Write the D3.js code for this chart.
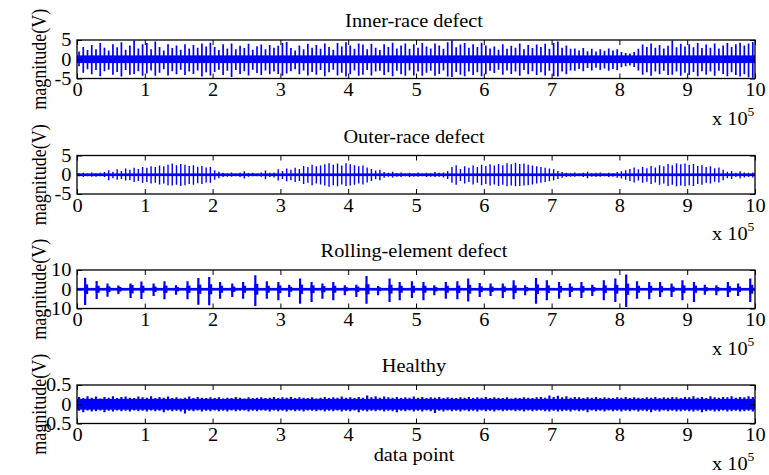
<!DOCTYPE html>
<html>
<head>
<meta charset="utf-8">
<script src="https://cdn.jsdelivr.net/npm/d3@7"></script>
<style>
body { margin: 0; background: #fff; }
text { font-family: "Liberation Serif", "Times New Roman", serif; font-size: 18px; fill: #000; }
</style>
</head>
<body>
<div id="svg_container"></div>
<script>

/* -----------------------
data (x in units of 1e5 data points, y in V)
------------------------- */

var titles = ["Inner-race defect", "Outer-race defect", "Rolling-element defect", "Healthy"];
var yDomains = [[-5, 5], [-5, 5], [-10, 10], [-0.5, 0.5]];
var yTicks = [[-5, 0, 5], [-5, 0, 5], [-10, 0, 10], [-0.5, 0, 0.5]];
var xTicks = [0, 1, 2, 3, 4, 5, 6, 7, 8, 9, 10];

// dense background band of each signal (+/- V)
var bands = [1.0, 0.35, 0.7, 0.14];

// impulse train sampling for inner / outer / healthy
var spikeStart = 0.03;
var spikeStep = 0.0625;

var innerHi = [
	2.0,3.2,2.4,3.7,2.6,4.2,3.0,2.3,3.9,3.1,4.4,2.5,3.6,4.9,2.8,3.9,
	4.2,2.6,4.6,3.2,2.3,3.9,2.9,3.6,2.5,3.9,2.8,3.7,3.0,4.1,3.3,4.3,
	3.2,2.4,3.9,2.8,4.1,2.6,3.5,2.9,4.0,2.5,3.4,3.8,2.6,3.7,3.0,3.5,
	4.2,4.5,2.9,2.3,3.6,2.6,4.0,3.0,3.7,2.7,4.1,3.2,2.5,4.2,3.3,4.4,
	3.6,2.7,4.1,3.8,2.6,4.0,3.0,2.4,3.9,3.2,4.3,2.8,3.6,4.1,2.7,3.9,
	3.0,4.2,3.3,2.8,4.1,3.6,2.7,4.4,4.9,3.1,3.8,4.2,3.0,3.9,3.2,4.3,
	3.6,2.8,3.3,2.5,3.9,2.7,3.5,3.0,4.1,2.6,3.7,2.9,3.8,3.2,4.0,2.7,
	4.2,4.6,3.0,3.6,2.7,2.8,2.3,2.9,2.1,2.7,2.0,2.6,2.2,2.8,2.3,2.6,
	1.9,1.6,1.5,1.9,2.7,3.8,3.2,4.1,3.0,3.7,2.8,3.5,4.9,3.1,4.0,3.3,
	3.9,3.1,4.2,2.9,3.8,3.0,4.1,2.8,3.6,4.2,3.2,3.9,4.3,3.6,4.1,4.5
];
var innerLo = [
	-1.8,-3.5,-2.6,-3.9,-2.8,-4.4,-3.1,-2.7,-4.0,-3.3,-4.5,-2.8,-4.0,-3.8,-3.1,-4.3,
	-3.7,-2.9,-4.3,-3.5,-2.6,-4.2,-3.1,-3.9,-2.7,-4.1,-3.2,-3.8,-2.9,-4.5,-3.4,-4.2,
	-3.3,-2.7,-4.1,-3.0,-4.6,-2.8,-3.8,-3.1,-4.2,-2.7,-3.6,-4.1,-2.9,-3.9,-3.2,-3.8,
	-4.3,-3.7,-3.1,-2.6,-3.9,-2.9,-4.2,-3.3,-4.0,-2.8,-4.4,-3.4,-2.7,-4.2,-3.5,-4.5,
	-3.9,-2.9,-4.3,-4.0,-2.8,-4.2,-3.2,-3.0,-4.1,-3.4,-4.4,-3.0,-3.9,-4.3,-2.9,-4.2,
	-3.2,-4.3,-3.5,-3.0,-4.3,-3.8,-2.9,-4.5,-4.6,-3.3,-4.0,-4.4,-3.2,-4.1,-3.4,-4.4,
	-3.9,-3.0,-3.6,-2.7,-4.0,-2.9,-3.8,-3.2,-4.3,-2.8,-3.9,-3.1,-4.1,-3.4,-4.2,-3.0,
	-4.4,-4.5,-3.2,-3.9,-2.9,-3.0,-2.5,-3.1,-2.3,-2.9,-2.2,-2.8,-2.4,-3.0,-2.5,-2.8,
	-2.1,-1.8,-1.6,-2.0,-2.9,-4.0,-3.4,-4.3,-3.2,-3.9,-3.0,-4.1,-4.0,-3.2,-4.3,-3.5,
	-4.1,-3.3,-4.4,-3.1,-4.0,-3.2,-4.3,-3.0,-3.8,-4.4,-3.4,-4.1,-4.5,-3.9,-4.7,-4.8
];

var outerHi = [
	0.4,0.5,0.3,0.6,0.4,0.5,0.7,1.2,0.8,1.4,1.0,1.6,1.3,1.8,1.5,2.0,
	1.8,2.2,2.0,2.4,2.2,2.6,2.9,2.5,2.8,2.6,2.3,2.5,2.1,2.3,1.9,2.0,
	1.2,0.8,0.5,0.4,0.6,0.3,0.5,0.9,0.4,0.5,0.3,0.6,1.1,0.5,0.6,1.4,
	1.0,1.6,1.3,1.8,1.5,2.3,2.0,2.6,2.2,2.4,2.7,3.0,2.6,2.9,2.4,3.0,
	2.7,2.5,2.2,2.4,1.9,1.5,1.1,1.3,0.7,0.5,0.8,0.4,0.6,0.3,0.5,0.4,
	0.6,0.3,0.5,0.4,0.7,0.5,0.6,1.0,2.0,2.5,1.5,2.2,1.8,2.4,2.0,2.6,
	2.3,2.7,2.4,2.8,2.5,3.0,2.7,3.1,2.8,2.9,2.6,2.4,2.2,2.0,1.8,1.6,
	1.4,1.0,0.7,0.5,0.4,0.6,0.3,0.5,0.8,0.4,0.5,0.6,0.3,0.5,0.4,0.7,
	0.9,1.2,1.5,1.9,1.4,2.0,1.7,2.3,1.9,2.5,2.2,2.8,2.5,3.0,2.7,2.9,
	2.6,2.8,2.3,2.5,2.0,2.2,1.7,1.9,1.3,0.8,1.0,0.5,0.9,0.6,0.5,0.6
];
var outerLo = [
	-0.4,-0.6,-0.4,-0.5,-0.5,-0.4,-0.6,-1.4,-0.9,-1.3,-1.1,-1.5,-1.4,-1.9,-1.6,-2.1,
	-1.9,-2.3,-2.1,-2.5,-2.3,-2.7,-2.8,-2.6,-2.9,-2.7,-2.4,-2.6,-2.2,-2.4,-2.0,-2.1,
	-1.3,-0.9,-0.6,-0.5,-0.5,-0.4,-0.6,-1.0,-0.5,-0.4,-0.4,-0.5,-1.2,-0.6,-0.7,-1.5,
	-1.1,-1.7,-1.4,-1.9,-1.6,-2.4,-2.1,-2.7,-2.3,-2.5,-2.8,-3.1,-2.7,-3.0,-2.5,-2.9,
	-2.8,-2.6,-2.3,-2.5,-2.0,-1.6,-1.2,-1.4,-0.8,-0.5,-0.7,-0.5,-0.6,-0.4,-0.6,-0.5,
	-0.5,-0.4,-0.6,-0.5,-0.6,-0.5,-0.7,-1.1,-2.1,-2.6,-1.6,-2.3,-1.9,-2.5,-2.1,-2.7,
	-2.4,-2.8,-2.5,-2.9,-2.6,-3.0,-2.8,-3.0,-2.9,-2.8,-2.7,-2.5,-2.3,-2.1,-1.9,-1.7,
	-1.5,-1.1,-0.8,-0.6,-0.5,-0.5,-0.4,-0.6,-0.9,-0.5,-0.6,-0.5,-0.4,-0.6,-0.5,-0.8,
	-1.0,-1.3,-1.6,-2.0,-1.5,-2.1,-1.8,-2.4,-2.0,-2.6,-2.3,-2.9,-2.6,-3.0,-2.8,-3.0,
	-2.7,-2.9,-2.4,-2.6,-2.1,-2.3,-1.8,-2.0,-1.4,-0.9,-1.1,-0.6,-1.0,-0.7,-0.6,-0.7
];

// rolling element: one burst per ball pass
var rollPos = [
	0.12,0.29,0.45,0.61,0.79,0.95,1.13,1.29,1.46,1.63,
	1.79,1.95,2.11,2.29,2.45,2.63,2.80,2.97,3.13,3.29,
	3.46,3.62,3.78,3.95,4.12,4.27,4.44,4.61,4.76,4.94,
	5.11,5.27,5.44,5.61,5.77,5.94,6.10,6.28,6.44,6.61,
	6.77,6.93,7.11,7.27,7.44,7.60,7.77,7.94,8.10,8.26,
	8.44,8.60,8.77,8.93,9.10,9.26,9.43,9.60,9.75,9.93
];
var rollHi = [
	6.0,4.3,3.0,2.0,3.0,4.0,3.0,4.2,2.1,4.2,
	5.9,6.4,3.8,3.0,3.8,7.3,4.2,3.8,2.4,5.6,
	3.8,3.0,3.8,2.1,2.4,6.9,1.7,5.6,3.8,4.2,
	3.8,2.1,3.8,4.2,5.6,3.3,3.0,3.0,4.7,2.1,
	5.9,4.7,3.8,3.0,3.8,2.4,4.7,5.6,7.6,4.2,
	3.8,3.8,3.0,4.7,3.8,2.4,2.1,3.8,3.0,5.6
];
var rollLo = [
	-8.2,-5.1,-3.9,-2.5,-4.5,-5.0,-3.5,-5.2,-2.8,-5.2,
	-8.0,-8.3,-4.9,-4.0,-4.9,-8.7,-4.9,-5.7,-4.0,-7.5,
	-6.6,-4.9,-5.7,-3.1,-4.0,-7.5,-3.1,-6.6,-5.7,-4.5,
	-5.7,-3.1,-4.9,-5.2,-6.3,-4.0,-3.5,-4.5,-5.2,-3.1,
	-7.5,-5.7,-4.9,-4.0,-4.5,-3.5,-5.7,-6.6,-9.2,-4.9,
	-5.2,-4.0,-4.0,-5.7,-6.6,-2.8,-3.1,-4.0,-3.5,-6.6
];
// ring-down of each burst (+/- V), a few samples after the impact
var rollRing = [
	2.5,1.8,1.5,1.2,2.2,1.8,1.4,1.9,1.1,1.9,
	2.4,2.6,1.8,1.4,1.8,2.8,1.8,2.0,1.3,2.4,
	2.0,1.6,1.8,1.1,1.4,2.6,1.0,2.3,1.8,1.8,
	1.8,1.1,1.8,1.9,2.3,1.5,1.4,1.5,2.0,1.1,
	2.5,2.0,1.7,1.4,1.7,1.2,2.0,2.3,2.9,1.8,
	1.8,1.6,1.4,2.0,1.9,1.1,1.1,1.6,1.4,2.3
];

var healthyHi = [
	0.19,0.16,0.21,0.17,0.20,0.15,0.19,0.17,0.21,0.16,0.19,0.20,0.17,0.16,0.20,0.18,
	0.17,0.21,0.16,0.19,0.17,0.20,0.16,0.18,0.15,0.17,0.20,0.16,0.19,0.17,0.16,0.18,
	0.16,0.18,0.15,0.17,0.16,0.19,0.17,0.15,0.18,0.16,0.17,0.18,0.16,0.17,0.19,0.16,
	0.18,0.17,0.19,0.16,0.18,0.17,0.16,0.18,0.15,0.17,0.19,0.16,0.18,0.17,0.20,0.17,
	0.18,0.16,0.19,0.17,0.23,0.18,0.21,0.17,0.20,0.18,0.17,0.19,0.16,0.18,0.17,0.20,
	0.17,0.19,0.16,0.18,0.17,0.19,0.16,0.18,0.17,0.16,0.18,0.17,0.19,0.16,0.18,0.17,
	0.19,0.16,0.18,0.17,0.16,0.18,0.15,0.17,0.16,0.18,0.17,0.16,0.18,0.19,0.17,0.23,
	0.19,0.22,0.18,0.21,0.17,0.19,0.18,0.16,0.18,0.17,0.19,0.16,0.18,0.17,0.16,0.18,
	0.17,0.19,0.16,0.18,0.17,0.16,0.18,0.17,0.19,0.16,0.18,0.17,0.19,0.18,0.16,0.19,
	0.18,0.21,0.17,0.19,0.16,0.21,0.18,0.17,0.19,0.18,0.21,0.17,0.19,0.18,0.21,0.19
];
var healthyLo = [
	-0.17,-0.21,-0.16,-0.19,-0.18,-0.16,-0.21,-0.17,-0.19,-0.16,-0.18,-0.17,-0.19,-0.16,-0.18,-0.17,
	-0.19,-0.16,-0.18,-0.17,-0.21,-0.16,-0.18,-0.17,-0.19,-0.24,-0.17,-0.18,-0.16,-0.19,-0.17,-0.18,
	-0.16,-0.18,-0.17,-0.19,-0.16,-0.18,-0.17,-0.16,-0.19,-0.17,-0.18,-0.16,-0.17,-0.19,-0.16,-0.18,
	-0.17,-0.19,-0.16,-0.18,-0.17,-0.19,-0.16,-0.17,-0.18,-0.16,-0.19,-0.17,-0.18,-0.16,-0.19,-0.17,
	-0.18,-0.16,-0.21,-0.17,-0.19,-0.17,-0.18,-0.16,-0.19,-0.17,-0.18,-0.21,-0.17,-0.18,-0.16,-0.19,
	-0.17,-0.19,-0.16,-0.18,-0.23,-0.17,-0.19,-0.16,-0.18,-0.17,-0.19,-0.16,-0.18,-0.17,-0.19,-0.16,
	-0.18,-0.17,-0.19,-0.16,-0.18,-0.17,-0.16,-0.18,-0.17,-0.19,-0.16,-0.18,-0.17,-0.16,-0.18,-0.19,
	-0.17,-0.19,-0.18,-0.17,-0.19,-0.16,-0.18,-0.17,-0.21,-0.16,-0.18,-0.17,-0.19,-0.16,-0.18,-0.17,
	-0.19,-0.17,-0.18,-0.16,-0.19,-0.17,-0.18,-0.21,-0.17,-0.19,-0.16,-0.18,-0.17,-0.19,-0.18,-0.17,
	-0.18,-0.19,-0.17,-0.21,-0.18,-0.17,-0.19,-0.18,-0.16,-0.19,-0.18,-0.17,-0.19,-0.18,-0.17,-0.19
];

/* -----------------------
main variables
------------------------- */

var width = 769;
var height = 475;
var plotLeft = 77;
var plotRight = 755;
var panelTop = [40, 155.5, 270, 385];
var panelH = 38.5;
var stretch = 1.13;   // glyphs in the picture are a bit wide
var blue = "#0000ff";

var series = [
	{hi: innerHi, lo: innerLo, w: 1.7},
	{hi: outerHi, lo: outerLo, w: 1.4},
	{hi: rollHi, lo: rollLo, pos: rollPos, ring: rollRing, w: 2.2},
	{hi: healthyHi, lo: healthyLo, w: 2.2}
];

/* -----------------------
set plot
------------------------- */

var svg = d3.select("#svg_container")
	.append("svg")
	.attr("width", width)
	.attr("height", height)
	.attr("viewBox", "0 0 " + width + " " + height);

var x = d3.scaleLinear().domain([0, 10]).range([plotLeft, plotRight]);

function wideText(parent, str, tx, ty, anchor) {
	return parent.append("text")
		.attr("transform", "translate(" + tx + "," + ty + ") scale(" + stretch + ",1)")
		.attr("text-anchor", anchor)
		.text(str);
}

function xPos(s, i) {
	return x(s.pos ? s.pos[i] : spikeStart + i * spikeStep);
}

series.forEach(function (s, p) {

	var top = panelTop[p];
	var y = d3.scaleLinear().domain(yDomains[p]).range([panelH, 0]);

	var g = svg.append("g")
		.attr("transform", "translate(0," + top + ")");

	g.append("clipPath")
		.attr("id", "clip" + p)
		.append("rect")
		.attr("x", plotLeft)
		.attr("y", 0)
		.attr("width", plotRight - plotLeft)
		.attr("height", panelH);

	var sig = g.append("g").attr("clip-path", "url(#clip" + p + ")");

	// background band
	sig.append("rect")
		.attr("x", x(0))
		.attr("y", y(bands[p]))
		.attr("width", x(10) - x(0))
		.attr("height", y(-bands[p]) - y(bands[p]))
		.attr("fill", blue);

	// ring-down blobs (rolling element only)
	if (s.ring) {
		sig.selectAll("rect.ring")
			.data(s.ring)
			.enter()
			.append("rect")
			.attr("class", "ring")
			.attr("x", function (d, i) { return xPos(s, i) - 1; })
			.attr("y", function (d) { return y(d); })
			.attr("width", 4)
			.attr("height", function (d) { return y(-d) - y(d); })
			.attr("fill", blue);
	}

	// impulses
	sig.selectAll("line.spike")
		.data(s.hi)
		.enter()
		.append("line")
		.attr("class", "spike")
		.attr("x1", function (d, i) { return xPos(s, i); })
		.attr("x2", function (d, i) { return xPos(s, i); })
		.attr("y1", function (d) { return y(d); })
		.attr("y2", function (d, i) { return y(s.lo[i]); })
		.attr("stroke", blue)
		.attr("stroke-width", s.w);

	/* --- axes --- */

	var xb = g.append("g")
		.attr("transform", "translate(0," + panelH + ")")
		.call(d3.axisBottom(x).tickValues(xTicks).tickSizeInner(-5).tickSizeOuter(0).tickFormat(d3.format("d")));
	xb.selectAll("text")
		.attr("y", 18)
		.attr("dy", null)
		.attr("transform", "scale(" + stretch + ",1)");

	g.append("g")
		.call(d3.axisTop(x).tickValues(xTicks).tickSizeInner(-5).tickSizeOuter(0).tickFormat(""));

	var yl = g.append("g")
		.attr("transform", "translate(" + plotLeft + ",0)")
		.call(d3.axisLeft(y).tickValues(yTicks[p]).tickSizeInner(-5).tickSizeOuter(0).tickFormat(function (d) { return String(d); }));
	yl.selectAll("text")
		.attr("x", -5)
		.attr("transform", "scale(" + stretch + ",1)");

	g.append("g")
		.attr("transform", "translate(" + plotRight + ",0)")
		.call(d3.axisRight(y).tickValues(yTicks[p]).tickSizeInner(-5).tickSizeOuter(0).tickFormat(""));

	g.selectAll(".domain").remove();
	g.selectAll(".tick line").attr("stroke", "#000").attr("stroke-width", 1);

	// box
	g.append("rect")
		.attr("x", plotLeft)
		.attr("y", 0)
		.attr("width", plotRight - plotLeft)
		.attr("height", panelH)
		.attr("fill", "none")
		.attr("stroke", "#000")
		.attr("stroke-width", 1.3);

	/* --- labels --- */

	wideText(g, titles[p], 414, -13, "middle");

	g.append("text")
		.attr("transform", "translate(45.5," + (panelH / 2) + ") scale(" + stretch + ",1) rotate(-90)")
		.attr("text-anchor", "middle")
		.text("magnitude(V)");

	var ex = wideText(g, "x 10", 712, 84.5, "start");
	ex.append("tspan")
		.attr("dy", -9)
		.style("font-size", "12px")
		.text("5");
});

wideText(svg, "data point", 414, 461, "middle");

</script>
</body>
</html>
